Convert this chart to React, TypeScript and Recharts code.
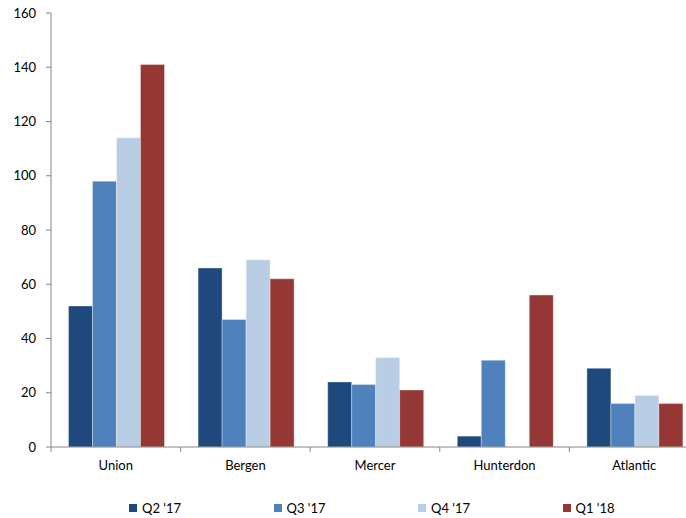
import React from 'react';
import { BarChart, Bar, XAxis, YAxis, Legend } from 'recharts';

const counties = ['Union', 'Bergen', 'Mercer', 'Hunterdon', 'Atlantic'];
const q2_17 = [52, 66, 24, 4, 29];
const q3_17 = [98, 47, 23, 32, 16];
const q4_17 = [114, 69, 33, 0, 19];
const q1_18 = [141, 62, 21, 56, 16];
const seriesNames = ["Q2 '17", "Q3 '17", "Q4 '17", "Q1 '18"];
const seriesColors = ['#1F497D', '#4F81BD', '#B9CDE5', '#953735'];
const yTicks = [0, 20, 40, 60, 80, 100, 120, 140, 160];

const data = counties.map((c, i) => ({
  county: c,
  s0: q2_17[i],
  s1: q3_17[i],
  s2: q4_17[i],
  s3: q1_18[i],
}));

const FONT = 'Lato, "Open Sans", sans-serif';
const AXIS = '#868686';

const CategoryTick = (props: any) => {
  const { x, y, payload } = props;
  const off = payload && typeof payload.offset === 'number' ? payload.offset : 0;
  return (
    <g>
      <line x1={x - off} x2={x - off} y1={y} y2={y + 5} stroke={AXIS} strokeWidth={1} />
      <text x={x} y={y + 14} dy="0.71em" textAnchor="middle" fill="#000" fontSize={13} fontFamily={FONT}>
        {payload.value}
      </text>
    </g>
  );
};

const LegendContent = () => (
  <div style={{ position: 'relative', height: 20, width: 686, fontFamily: FONT, fontSize: 13, color: '#000' }}>
    {seriesNames.map((n, i) => (
      <div
        key={n}
        style={{
          position: 'absolute',
          left: 129 + i * 144.5,
          top: 0,
          height: 20,
          display: 'flex',
          alignItems: 'center',
          whiteSpace: 'nowrap',
        }}
      >
        <span style={{ display: 'inline-block', width: 8, height: 8, background: seriesColors[i], marginRight: 5 }} />
        <span>{n}</span>
      </div>
    ))}
  </div>
);

export default function App() {
  return (
    <div style={{ position: 'absolute', left: 0, top: 0, width: 686, height: 518, overflow: 'hidden', background: '#fff' }}>
      <BarChart
        width={700}
        height={518}
        data={data}
        margin={{ top: 13, right: 1, left: 0, bottom: 0 }}
        barCategoryGap="13.5%"
        barGap={0}
        style={{ fontFamily: FONT }}
      >
        <XAxis
          dataKey="county"
          type="category"
          axisLine={{ stroke: AXIS }}
          tickLine={false}
          tickSize={0}
          tickMargin={0}
          height={51}
          interval={0}
          tick={<CategoryTick />}
        />
        <YAxis
          domain={[0, 160]}
          ticks={yTicks}
          width={51}
          axisLine={{ stroke: AXIS }}
          tickLine={{ stroke: AXIS }}
          tickSize={5}
          tickMargin={10}
          interval={0}
          tick={{ fill: '#000', fontSize: 13, fontFamily: FONT }}
        />
        <Legend verticalAlign="bottom" content={<LegendContent />} wrapperStyle={{ left: 0, width: 686 }} />
        {['s0', 's1', 's2', 's3'].map((k, i) => (
          <Bar
            key={k}
            dataKey={k}
            name={seriesNames[i]}
            fill={seriesColors[i]}
            stroke="rgba(255,255,255,0.35)"
            strokeWidth={1}
            isAnimationActive={false}
          />
        ))}
      </BarChart>
    </div>
  );
}
